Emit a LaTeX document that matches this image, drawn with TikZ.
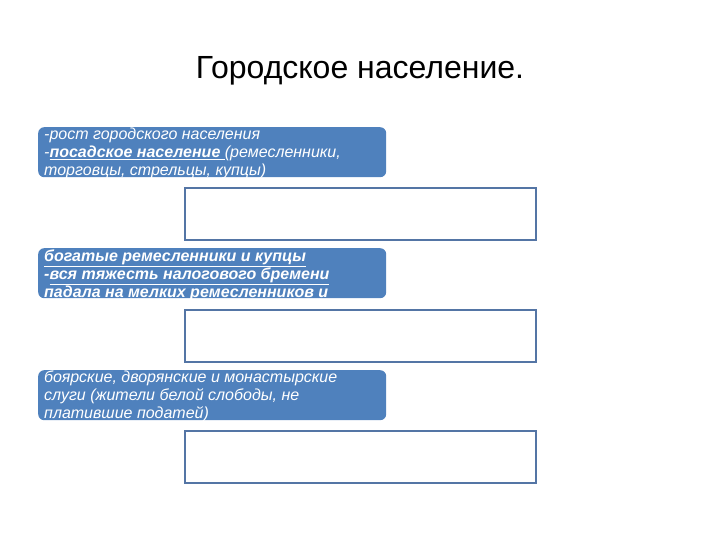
\documentclass[tikz,border=0pt]{standalone}
\usepackage{fontspec}
\setmainfont{Liberation Sans}

\definecolor{boxblue}{RGB}{79,129,189}
\definecolor{lineblue}{RGB}{84,117,165}

\begin{document}
\begin{tikzpicture}[x=1pt, y=-1pt,
    bluebox/.style = {rectangle, rounded corners=6pt, fill=boxblue,
      minimum width=348pt, minimum height=50pt, anchor=north west,
      inner sep=0pt},
    whitebox/.style = {rectangle, draw=lineblue, line width=2pt,
      fill=white, minimum width=351pt, minimum height=52pt,
      anchor=north west, inner sep=0pt},
    boxtext/.style = {anchor=north west, text=white, align=left,
      inner sep=0pt, font=\fontsize{16}{18}\selectfont\itshape}]
  \useasboundingbox (0,0) rectangle (720,540);
  \node[anchor=base, inner sep=0pt] (title) at (360,79)
  {\fontsize{32}{36}\selectfont Городское население.};
  \foreach \i/\y in {1/127, 2/248, 3/370}
  \node[bluebox] (group\i) at (38,\y) {};
  \foreach \i/\y in {1/187, 2/309, 3/430}
  \node[whitebox] (frame\i) at (184,\y) {};
  \node[boxtext] (text1) at ([xshift=6pt, yshift=-1pt]group1.north west)
  {-рост городского населения\\
    -\underline{\bfseries посадское население }(ремесленники,\\
    торговцы, стрельцы, купцы)};
  \node[boxtext, font=\fontsize{16}{18}\selectfont\itshape\bfseries] (text2)
  at ([xshift=6pt, yshift=-2pt]group2.north west)
  {\underline{богатые ремесленники и купцы}\\
    -\underline{вся тяжесть налогового бремени}\\
    \underline{падала на мелких ремесленников и}};
  \node[boxtext] (text3) at ([xshift=6pt, yshift=-1pt]group3.north west)
  {боярские, дворянские и монастырские\\
    слуги (жители белой слободы, не\\
    платившие податей)};
\end{tikzpicture}
\end{document}
